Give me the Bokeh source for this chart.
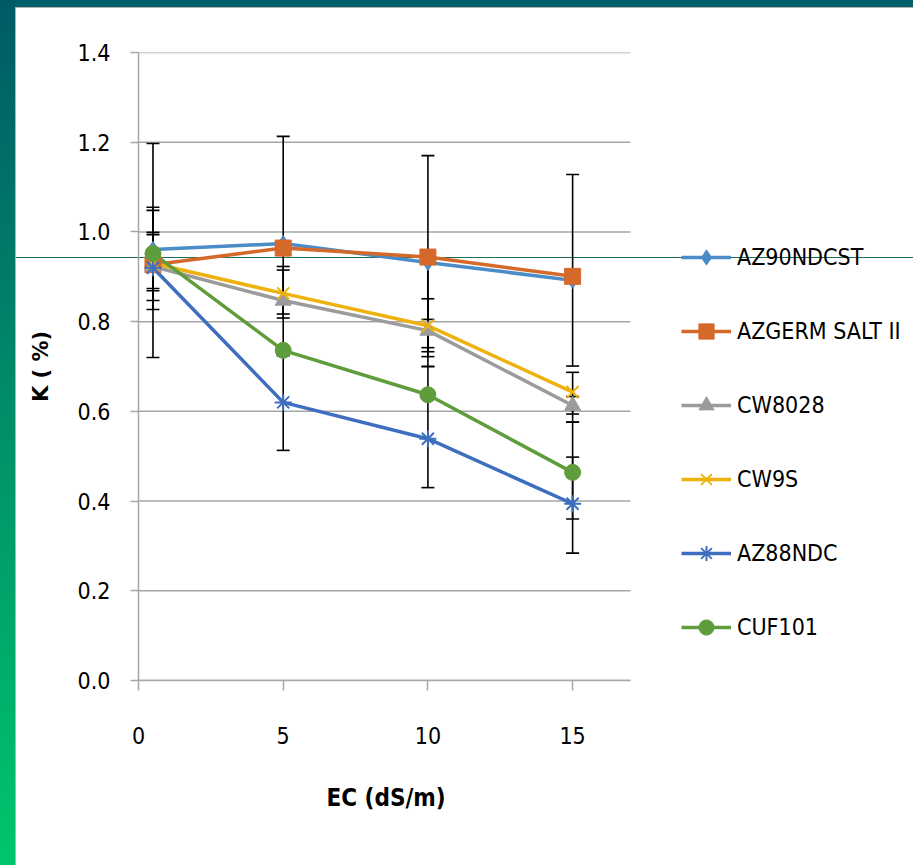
from bokeh.plotting import figure
from bokeh.models import (Legend, LegendItem, FixedTicker, Title,
                          NumeralTickFormatter, ColumnDataSource)
from bokeh.embed import file_html
from bokeh.resources import INLINE

# ---------------- data ----------------
EC = [0.5, 5, 10, 15]
X_TICKS = [0, 5, 10, 15]
Y_TICKS = [0.0, 0.2, 0.4, 0.6, 0.8, 1.0, 1.2, 1.4]
NAMES = ["AZ90NDCST", "AZGERM SALT II", "CW8028", "CW9S", "AZ88NDC", "CUF101"]

AZ90NDCST_K = [0.961, 0.974, 0.932, 0.892]
AZGERM_K = [0.927, 0.964, 0.944, 0.901]
CW8028_K = [0.923, 0.847, 0.780, 0.613]
CW9S_K = [0.930, 0.863, 0.791, 0.643]
AZ88NDC_K = [0.920, 0.620, 0.539, 0.394]
CUF101_K = [0.952, 0.736, 0.637, 0.464]

# error bar extents (minus / plus)
AZ90NDCST_LO = [0.241, 0.0, 0.190, 0.0]
AZ90NDCST_HI = [0.236, 0.0, 0.0, 0.0]
AZGERM_LO = [0.058, 0.240, 0.244, 0.200]
AZGERM_HI = [0.072, 0.249, 0.226, 0.227]
CW8028_LO = [0.049, 0.030, 0.058, 0.037]
CW8028_HI = [0.071, 0.068, 0.025, 0.020]
CW9S_LO = [0.103, 0.055, 0.058, 0.049]
CW9S_HI = [0.118, 0.060, 0.060, 0.044]
AZ88NDC_LO = [0.0, 0.107, 0.109, 0.110]
AZ88NDC_HI = [0.0, 0.107, 0.161, 0.182]
CUF101_LO = [0.105, 0.0, 0.0, 0.104]
CUF101_HI = [0.103, 0.0, 0.0, 0.034]

VALUES = [AZ90NDCST_K, AZGERM_K, CW8028_K, CW9S_K, AZ88NDC_K, CUF101_K]
LOS = [AZ90NDCST_LO, AZGERM_LO, CW8028_LO, CW9S_LO, AZ88NDC_LO, CUF101_LO]
HIS = [AZ90NDCST_HI, AZGERM_HI, CW8028_HI, CW9S_HI, AZ88NDC_HI, CUF101_HI]

X_AXIS_MAX = 17
Y_MAX = 1.4

COLORS = ["#4a8cc8", "#d5692a", "#9b9b9b", "#efb10b", "#3d6ebf", "#5f9c3c"]
MARKERS = ["diamond", "square", "triangle", "x", "asterisk", "circle"]

FONT = "'DejaVu Sans Condensed', 'Liberation Sans Narrow', sans-serif"
GRID = "#a6a6a6"

W, H = 913, 865
LEFT, RIGHT_AXIS_END, TOP, BOTTOM = 138, 630, 52, 680
# frame runs to the right edge (so the legend is inside it); the axis and
# grid stop at X_AXIS_MAX
x_end = X_AXIS_MAX * (W - LEFT) / (RIGHT_AXIS_END - LEFT)

p = figure(width=W, height=H, x_range=(0, x_end), y_range=(0, Y_MAX),
           output_backend="svg", toolbar_location=None,
           min_border_left=LEFT, min_border_right=0,
           min_border_top=TOP, min_border_bottom=H - BOTTOM)
p.outline_line_color = None
p.background_fill_alpha = 0
p.border_fill_alpha = 0

# slide decoration painted behind the transparent canvas
p.styles = {
    "background-color": "white",
    "background-image": ("linear-gradient(to bottom, #005a66, #00c66c), "
                         "linear-gradient(#005f68, #005f68), "
                         "linear-gradient(#b4b4b4, #b4b4b4), "
                         "linear-gradient(#b4b4b4, #b4b4b4), "
                         "linear-gradient(#1c6e5c, #1c6e5c)"),
    "background-position": "0px 0px, 0px 0px, 0px 7px, 15px 7px, 15px 257px",
    "background-size": "15px 100%, 100% 7px, 100% 1px, 1px 100%, 100% 1px",
    "background-repeat": "no-repeat",
}

p.xgrid.visible = False
p.ygrid.visible = False

for ax in (p.xaxis[0], p.yaxis[0]):
    ax.axis_line_color = GRID
    ax.axis_line_width = 1.5
    ax.major_tick_line_color = GRID
    ax.major_tick_line_width = 1.5
    ax.major_tick_in = 0
    ax.minor_tick_line_color = None
    ax.major_label_text_font = FONT
    ax.major_label_text_font_size = "23px"
    ax.major_label_text_color = "black"

p.xaxis.bounds = (0, X_AXIS_MAX)
p.yaxis.axis_label = "K ( %)"
p.yaxis.axis_label_text_font = "'DejaVu Sans', sans-serif"
p.yaxis.axis_label_text_font_size = "21px"
p.yaxis.axis_label_text_font_style = "bold"
p.yaxis.axis_label_text_color = "black"
p.yaxis.axis_label_standoff = 22

p.xaxis.ticker = FixedTicker(ticks=X_TICKS)
p.yaxis.ticker = FixedTicker(ticks=Y_TICKS)
p.yaxis.formatter = NumeralTickFormatter(format="0.0")
p.xaxis.major_tick_out = 10
p.yaxis.major_tick_out = 8
p.xaxis.major_label_standoff = 36
p.yaxis.major_label_standoff = 20

# x-axis title centred under the drawn axis (0..17), not the wider frame
p.add_layout(Title(text="EC (dS/m)", align="left", offset=188,
                   text_font=FONT, text_font_size="24px",
                   text_font_style="bold", text_color="black",
                   standoff=70), "below")

# ---- horizontal gridlines limited to the axis extent ----
p.segment(x0=[0] * len(Y_TICKS), y0=Y_TICKS,
          x1=[X_AXIS_MAX] * len(Y_TICKS), y1=Y_TICKS,
          line_color=GRID, line_width=1.5)

# ---- error bars ----
for vals, lo, hi in zip(VALUES, LOS, HIS):
    src = ColumnDataSource(dict(
        x=EC,
        lo=[v - d for v, d in zip(vals, lo)],
        hi=[v + d for v, d in zip(vals, hi)],
    ))
    p.segment(x0="x", y0="lo", x1="x", y1="hi", source=src,
              line_color="black", line_width=1.6)
    p.scatter(x="x", y="lo", source=src, marker="dash", size=13,
              line_color="black", line_width=1.6)
    p.scatter(x="x", y="hi", source=src, marker="dash", size=13,
              line_color="black", line_width=1.6)

# ---- series lines ----
line_rs = []
for vals, col in zip(VALUES, COLORS):
    line_rs.append(p.line(EC, vals, line_color=col, line_width=3.5))

# ---- markers ----
marker_rs = []
for vals, col, mk in zip(VALUES, COLORS, MARKERS):
    if mk in ("x", "asterisk"):
        r = p.scatter(EC, vals, marker=mk, size=17, line_color=col, line_width=2)
    else:
        r = p.scatter(EC, vals, marker=mk, size=16, fill_color=col, line_color=col)
    marker_rs.append(r)

items = [LegendItem(label=n, renderers=[l, m]) for n, l, m in zip(NAMES, line_rs, marker_rs)]
legend = Legend(items=items, location=(681 - LEFT, 34), orientation="vertical",
                glyph_width=50, glyph_height=38, label_height=38,
                label_standoff=6, spacing=36, padding=0, margin=0,
                border_line_color=None, background_fill_alpha=0,
                label_text_font=FONT, label_text_font_size="23px",
                label_text_color="black")
p.add_layout(legend)

open("out.html", "w").write(file_html(p, INLINE))
